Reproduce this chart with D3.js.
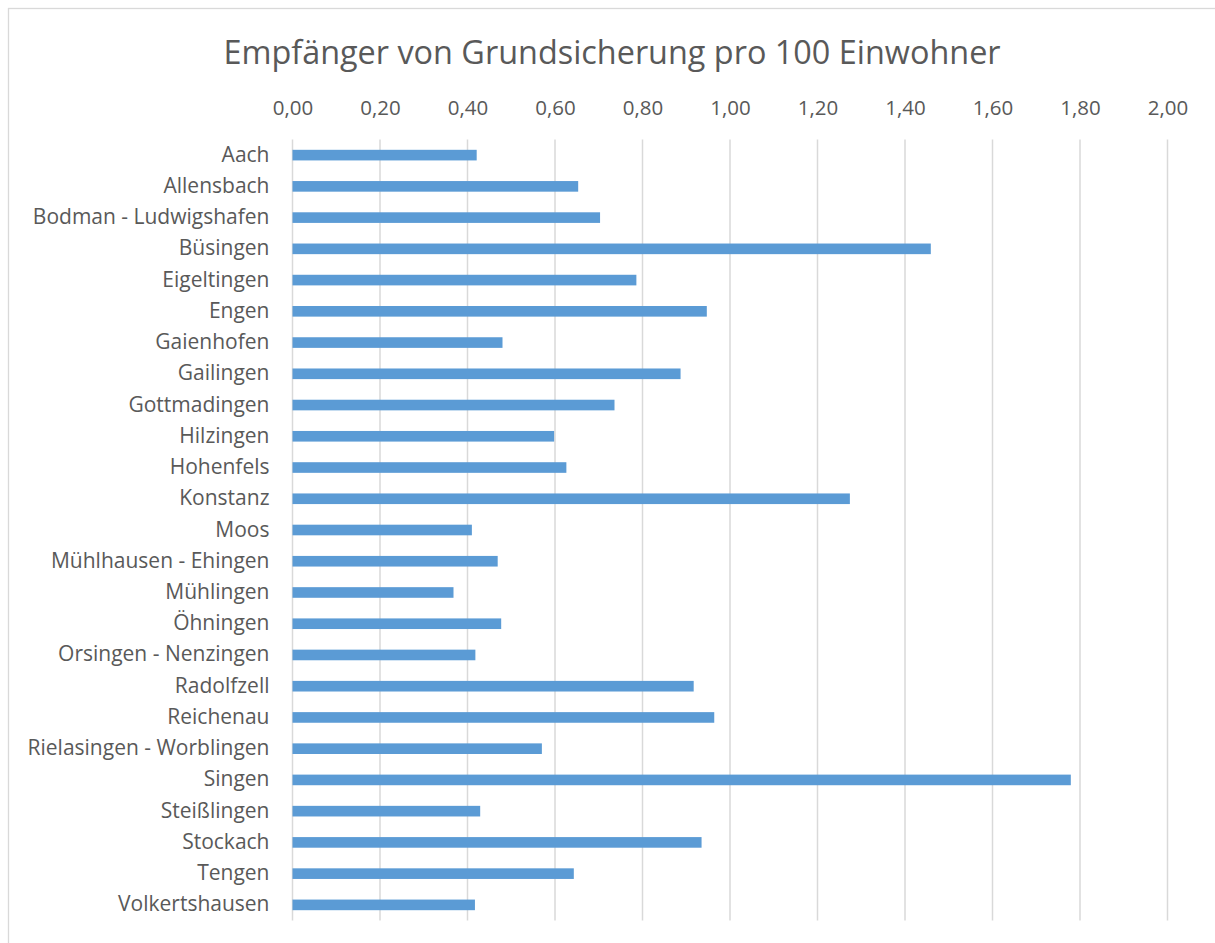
<!DOCTYPE html>
<html><head><meta charset="utf-8">
<script src="https://cdn.jsdelivr.net/npm/d3@7"></script>
<style>body{margin:0;background:#fff;} svg{display:block;}</style>
</head><body>
<svg id="chart" width="1215" height="943"></svg>
<script>
const title = "Empfänger von Grundsicherung pro 100 Einwohner";
const categories = ["Aach","Allensbach","Bodman - Ludwigshafen","Büsingen","Eigeltingen","Engen","Gaienhofen","Gailingen","Gottmadingen","Hilzingen","Hohenfels","Konstanz","Moos","Mühlhausen - Ehingen","Mühlingen","Öhningen","Orsingen - Nenzingen","Radolfzell","Reichenau","Rielasingen - Worblingen","Singen","Steißlingen","Stockach","Tengen","Volkertshausen"];
const values = [0.421,0.653,0.703,1.459,0.786,0.947,0.480,0.887,0.736,0.598,0.626,1.274,0.410,0.469,0.368,0.477,0.418,0.917,0.964,0.570,1.779,0.429,0.935,0.643,0.417];
const tickValues = [0,0.2,0.4,0.6,0.8,1.0,1.2,1.4,1.6,1.8,2.0];

const svg = d3.select("#chart");
const W = 1215, H = 943;
const m = {left: 292.5, right: 1167.5, top: 139.5, bottom: 920.5};
const font = "'Open Sans', sans-serif";
const textColor = "#595959";

// chart border
svg.append("rect").attr("x", 8.5).attr("y", 8.5).attr("width", W + 20).attr("height", H + 20)
  .attr("fill", "#fff").attr("stroke", "#d9d9d9").attr("stroke-width", 1.3);

const x = d3.scaleLinear().domain([0, 2]).range([m.left, m.right]);
const y = d3.scaleBand().domain(categories).range([m.top, m.bottom]).paddingInner(0.66).paddingOuter(0.33);

// gridlines
svg.append("g").selectAll("line").data(tickValues).join("line")
  .attr("x1", d => x(d)).attr("x2", d => x(d))
  .attr("y1", m.top).attr("y2", m.bottom)
  .attr("stroke", "#d9d9d9").attr("stroke-width", 1.5);

// top axis labels
const fmt = d => d3.format(".2f")(d).replace(".", ",");
const xAxis = d3.axisTop(x).tickValues(tickValues).tickFormat(fmt).tickSize(0).tickPadding(0);
const gx = svg.append("g").attr("transform", `translate(0,${115})`).call(xAxis);
gx.select(".domain").remove();
gx.selectAll("text").attr("font-family", font).attr("font-size", 20.5).attr("fill", textColor).attr("dy", 0);

// bars
svg.append("g").selectAll("rect").data(categories).join("rect")
  .attr("x", x(0))
  .attr("y", d => y(d))
  .attr("width", (d, i) => x(values[i]) - x(0))
  .attr("height", y.bandwidth())
  .attr("fill", "#5b9bd5");

// category labels
const yAxis = d3.axisLeft(y).tickSize(0).tickPadding(23);
const gy = svg.append("g").attr("transform", `translate(${m.left},0)`).call(yAxis);
gy.select(".domain").remove();
gy.selectAll("text").attr("font-family", font).attr("font-size", 21).attr("fill", textColor).attr("dy", "0.31em");

// title
svg.append("text").attr("x", 612).attr("y", 64).attr("text-anchor", "middle")
  .attr("font-family", font).attr("font-size", 32.4).attr("fill", textColor).text(title);
</script>
</body></html>
